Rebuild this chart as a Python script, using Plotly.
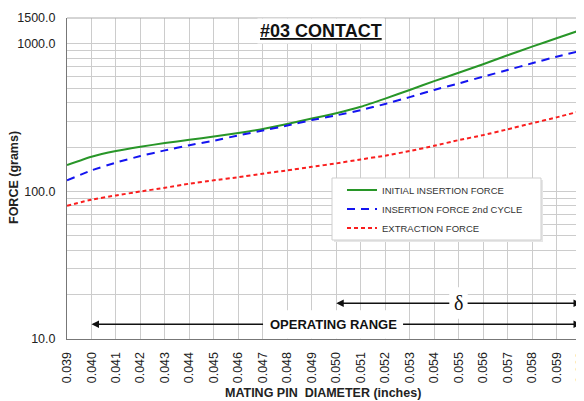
import math
import plotly.graph_objects as go

# ---- data ----
diameter = [0.039, 0.040, 0.041, 0.042, 0.043, 0.044, 0.045, 0.046, 0.047, 0.048, 0.049,
            0.050, 0.051, 0.052, 0.053, 0.054, 0.055, 0.056, 0.057, 0.058, 0.059, 0.060]
initial_insertion = [151, 172, 188, 201, 213, 224, 236, 249, 265, 287, 312,
                     339, 375, 426, 488, 560, 638, 728, 838, 959, 1093, 1245]
insertion_2nd = [119, 139, 157, 174, 190, 206, 221, 240, 259, 280, 305,
                 328, 356, 392, 436, 488, 540, 600, 666, 740, 820, 900]
extraction = [80, 88, 94, 100, 106, 113, 119, 125, 132, 139, 147,
              155, 165, 175, 188, 204, 223, 241, 264, 290, 318, 351]
x_ticks = diameter
x_tick_labels = ["%.3f" % v for v in diameter]
y_ticks = [10, 100, 1000, 1500]
y_tick_labels = ["10.0", "100.0", "1000.0", "1500.0"]
y_minor = [20, 30, 40, 50, 60, 70, 80, 90, 200, 300, 400, 500, 600, 700, 800, 900]
op_range = [0.040, 0.060]
delta_range = [0.050, 0.060]

FONT = "Liberation Sans, Arial, sans-serif"
TXT = "#222222"

fig = go.Figure()
fig.add_trace(go.Scatter(x=diameter, y=initial_insertion, mode="lines",
                         name="INITIAL INSERTION FORCE",
                         line=dict(color="rgb(40,150,40)", width=2, shape="spline", smoothing=0.4)))
fig.add_trace(go.Scatter(x=diameter, y=insertion_2nd, mode="lines",
                         name="INSERTION FORCE 2nd CYCLE",
                         line=dict(color="rgb(20,20,240)", width=2, dash="8px,6px", shape="spline", smoothing=0.4)))
fig.add_trace(go.Scatter(x=diameter, y=extraction, mode="lines",
                         name="EXTRACTION FORCE",
                         line=dict(color="rgb(250,30,30)", width=2, dash="4px,3px", shape="spline", smoothing=0.4)))

grid = "#cccccc"
# the page body adds an 8px offset, so the figure is drawn 8px smaller
fig.update_layout(
    width=576, height=393,
    margin=dict(l=59, r=3, t=10, b=62),
    paper_bgcolor="white", plot_bgcolor="white",
    font=dict(family=FONT, color=TXT),
    showlegend=True,
    legend=dict(x=0.535, y=(339 - 175.5) / 321, xanchor="left", yanchor="top",
                bgcolor="rgba(0,0,0,0)", borderwidth=0,
                font=dict(size=9.5, color="#333333", family=FONT),
                tracegroupgap=3.5),
    xaxis=dict(range=[0.039, 0.060], tickmode="array", tickvals=x_ticks, ticktext=x_tick_labels,
               tickangle=-90, showgrid=True, gridcolor=grid, gridwidth=1, automargin=False,
               ticklabeloverflow="allow",
               showline=True, linecolor="#777777", linewidth=1, zeroline=False,
               ticks="outside", ticklen=0, ticklabelstandoff=7,
               tickfont=dict(size=12.5, color=TXT, family=FONT)),
    yaxis=dict(type="log", range=[1, math.log10(1500)], tickmode="array", tickvals=y_ticks, ticktext=y_tick_labels,
               showgrid=True, gridcolor=grid, gridwidth=1, automargin=False,
               ticklabeloverflow="allow",
               minor=dict(tickmode="array", tickvals=y_minor, showgrid=True, gridcolor=grid, gridwidth=1, ticks=""),
               showline=True, linecolor="#777777", linewidth=1, zeroline=False,
               ticks="outside", ticklen=0, ticklabelstandoff=8,
               tickfont=dict(size=12.5, color=TXT, family=FONT)),
)

# axis titles
fig.add_annotation(text="<b>MATING PIN  DIAMETER (inches)</b>", xref="paper", yref="paper",
                   x=(323 - 67) / 514, y=(339 - 393) / 321, xanchor="center", yanchor="middle",
                   showarrow=False, font=dict(size=12.5, color=TXT, family=FONT))
fig.add_annotation(text="<b>FORCE (grams)</b>", xref="paper", yref="paper", textangle=-90,
                   x=(14 - 67) / 514, y=(339 - 178) / 321, xanchor="center", yanchor="middle",
                   showarrow=False, font=dict(size=12.5, color=TXT, family=FONT))

# top frame line
fig.add_shape(type="line", xref="paper", yref="paper", x0=0, x1=1, y0=1, y1=1,
              line=dict(color="#aaaaaa", width=1))

# legend box (shadow + box)
lx0, lx1 = (332 - 67) / 514, (541 - 67) / 514
ly1, ly0 = (339 - 178) / 321, (339 - 240) / 321
fig.add_shape(type="rect", xref="paper", yref="paper", x0=lx0 + 2 / 514, x1=lx1 + 2 / 514,
              y0=ly0 - 2 / 321, y1=ly1 - 2 / 321, line=dict(width=0), fillcolor="#e6e6e6", layer="above")
fig.add_shape(type="rect", xref="paper", yref="paper", x0=lx0, x1=lx1, y0=ly0, y1=ly1,
              line=dict(color="#cfcfcf", width=1), fillcolor="white", layer="above")

# title
fig.add_annotation(text="<b><u>#03 CONTACT</u></b>", xref="paper", yref="paper",
                   x=(321 - 67) / 514, y=(339 - 31) / 321, xanchor="center", yanchor="middle",
                   showarrow=False, bgcolor="white", borderpad=2,
                   font=dict(size=18, color="#111111", family=FONT))

# operating range double arrow
op_y = math.log10(12.6)
op_c = 0.04987
for end in op_range:
    fig.add_annotation(text="<b>OPERATING RANGE</b>", x=end, y=op_y, xref="x", yref="y",
                       ax=op_c, ay=op_y, axref="x", ayref="y",
                       showarrow=True, arrowhead=2, arrowsize=1, arrowwidth=1.5, arrowcolor="#111111",
                       bgcolor="white", borderpad=6,
                       font=dict(size=13, color="#111111", family=FONT))

# delta double arrow
d_y = math.log10(17.5)
d_c = 0.0550
for end in delta_range:
    fig.add_annotation(text="δ", x=end, y=d_y, xref="x", yref="y",
                       ax=d_c, ay=d_y, axref="x", ayref="y",
                       showarrow=True, arrowhead=2, arrowsize=1, arrowwidth=1.5, arrowcolor="#111111",
                       bgcolor="white", borderpad=4,
                       font=dict(size=20, color="#111111", family="Liberation Serif, Times New Roman, serif"))

fig.write_html("out.html")
